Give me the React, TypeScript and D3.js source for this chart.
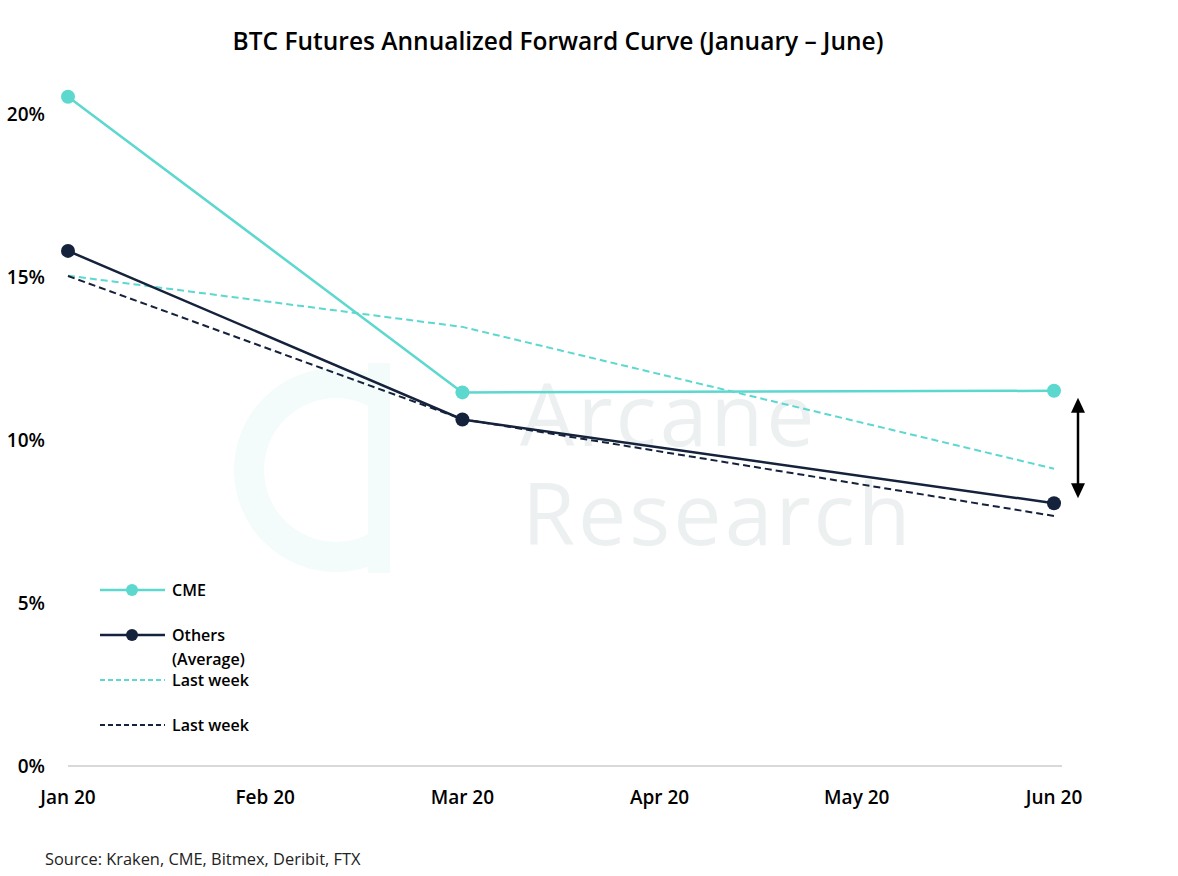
import React from 'react';
import * as d3 from 'd3';

// --- DATA ---
const months = ['Jan 20', 'Feb 20', 'Mar 20', 'Apr 20', 'May 20', 'Jun 20'];
const yTicks = [0, 5, 10, 15, 20];

const cme = [
  { m: 'Jan 20', v: 20.53 },
  { m: 'Mar 20', v: 11.46 },
  { m: 'Jun 20', v: 11.51 },
];
const others = [
  { m: 'Jan 20', v: 15.8 },
  { m: 'Mar 20', v: 10.63 },
  { m: 'Jun 20', v: 8.06 },
];
const cmeLastWeek = [
  { m: 'Jan 20', v: 15.04 },
  { m: 'Mar 20', v: 13.47 },
  { m: 'Jun 20', v: 9.12 },
];
const othersLastWeek = [
  { m: 'Jan 20', v: 15.03 },
  { m: 'Mar 20', v: 10.64 },
  { m: 'Jun 20', v: 7.67 },
];

const TEAL = '#5cd8cf';
const NAVY = '#15223b';
const FONT = "'Open Sans', 'Noto Sans', sans-serif";

export default function App() {
  const W = 1178;
  const H = 876;

  const x = d3.scalePoint<string>().domain(months).range([68, 1054]);
  const y = d3.scaleLinear().domain([0, 20]).range([766, 114]);

  const line = d3
    .line<{ m: string; v: number }>()
    .x(d => x(d.m) as number)
    .y(d => y(d.v));

  // arrow spans the CME / Others gap at the last month
  const arrowX = (x('Jun 20') as number) + 24;
  const arrowTop = y(11.51) + 7;
  const arrowBot = y(8.06) - 5;

  const ring = d3.arc()({ innerRadius: 72, outerRadius: 102, startAngle: 0, endAngle: Math.PI * 2 } as any) || '';

  return (
    <svg
      width={W}
      height={H}
      style={{ position: 'absolute', left: 0, top: 0, background: '#fff' }}
      fontFamily={FONT}
    >
      {/* watermark */}
      <defs>
        <clipPath id="wm-clip">
          <rect x={220} y={350} width={148} height={240} />
        </clipPath>
      </defs>
      <g>
        <g clipPath="url(#wm-clip)">
          <path d={ring} transform="translate(336,470)" fill="#f3fbfb" />
        </g>
        <rect x={368} y={363} width={22} height={210} fill="#f3fbfb" />
        <text x={520} y={446} fontSize={86} fontWeight={400} letterSpacing={3} fill="#edf0f1">
          Arcane
        </text>
        <text x={522} y={545} fontSize={86} fontWeight={400} letterSpacing={3} fill="#edf0f1">
          Research
        </text>
      </g>

      {/* title */}
      <text x={558} y={50} textAnchor="middle" fontSize={24.5} fontWeight={600} fill="#000">
        BTC Futures Annualized Forward Curve (January – June)
      </text>

      {/* baseline */}
      <line x1={68} x2={1062} y1={y(0)} y2={y(0)} stroke="#d9d9d9" strokeWidth={2} />

      {/* y ticks */}
      {yTicks.map(t => (
        <text
          key={t}
          x={45}
          y={y(t)}
          dy="0.35em"
          textAnchor="end"
          fontSize={19}
          fontWeight={600}
          fill="#000"
        >
          {t}%
        </text>
      ))}

      {/* x ticks */}
      {months.map(m => (
        <text
          key={m}
          x={x(m)}
          y={804}
          textAnchor="middle"
          fontSize={19}
          fontWeight={600}
          fill="#000"
        >
          {m}
        </text>
      ))}

      {/* series */}
      <path d={line(cmeLastWeek) || ''} fill="none" stroke={TEAL} strokeWidth={2} strokeDasharray="7 4" />
      <path d={line(othersLastWeek) || ''} fill="none" stroke={NAVY} strokeWidth={2} strokeDasharray="7 4" />
      <path d={line(cme) || ''} fill="none" stroke={TEAL} strokeWidth={2.5} />
      <path d={line(others) || ''} fill="none" stroke={NAVY} strokeWidth={2.5} />
      {cme.map(d => (
        <circle key={'c' + d.m} cx={x(d.m)} cy={y(d.v)} r={7} fill={TEAL} />
      ))}
      {others.map(d => (
        <circle key={'o' + d.m} cx={x(d.m)} cy={y(d.v)} r={7} fill={NAVY} />
      ))}

      {/* gap arrow */}
      <line x1={arrowX} x2={arrowX} y1={arrowTop + 12} y2={arrowBot - 12} stroke="#000" strokeWidth={2.5} />
      <path
        d={`M${arrowX},${arrowTop} L${arrowX - 7},${arrowTop + 15} L${arrowX + 7},${arrowTop + 15} Z`}
        fill="#000"
      />
      <path
        d={`M${arrowX},${arrowBot} L${arrowX - 7},${arrowBot - 15} L${arrowX + 7},${arrowBot - 15} Z`}
        fill="#000"
      />

      {/* legend */}
      <g fontSize={16} fontWeight={600} fill="#000">
        <line x1={100} x2={165} y1={590} y2={590} stroke={TEAL} strokeWidth={2.5} />
        <circle cx={132} cy={590} r={6} fill={TEAL} />
        <text x={172} y={590} dy="0.35em">CME</text>

        <line x1={100} x2={165} y1={635} y2={635} stroke={NAVY} strokeWidth={2.5} />
        <circle cx={132} cy={635} r={6} fill={NAVY} />
        <text x={172} y={635} dy="0.35em">Others</text>
        <text x={172} y={659} dy="0.35em">(Average)</text>

        <line x1={100} x2={165} y1={680} y2={680} stroke={TEAL} strokeWidth={1.8} strokeDasharray="5 3" />
        <text x={172} y={680} dy="0.35em">Last week</text>

        <line x1={100} x2={165} y1={725} y2={725} stroke={NAVY} strokeWidth={1.8} strokeDasharray="5 3" />
        <text x={172} y={725} dy="0.35em">Last week</text>
      </g>

      {/* source */}
      <text x={45} y={865} fontSize={16.4} fill="#222">
        Source: Kraken, CME, Bitmex, Deribit, FTX
      </text>
    </svg>
  );
}
